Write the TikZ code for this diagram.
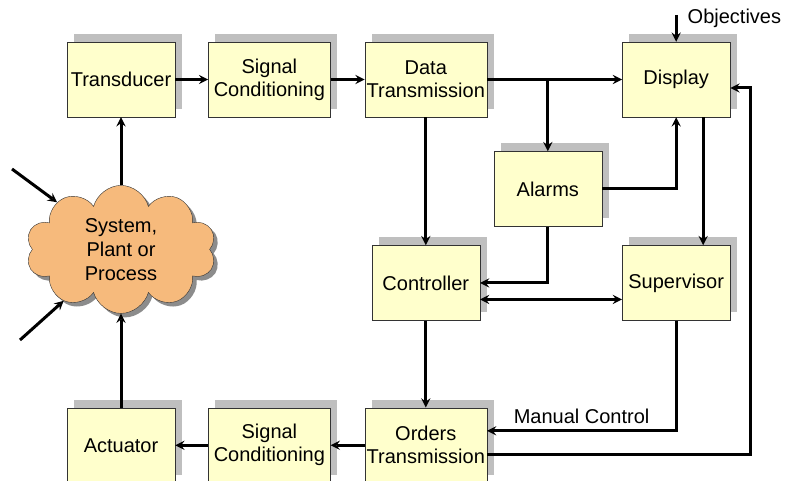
\documentclass[tikz,border=0pt]{standalone}
\usepackage{fontspec}
\setmainfont{Liberation Sans}
\usepackage{xcolor}
\usepackage{tikz}
\usetikzlibrary{shapes.symbols, shadows, arrows, positioning}
\definecolor{boxfill}{RGB}{255,255,204}
\definecolor{cloudfill}{RGB}{246,186,124}

\begin{document}
\begin{tikzpicture}[node distance=33pt, auto,
    block/.style={rectangle, draw=black!80, fill=boxfill, text centered, align=center, minimum width=108pt, minimum height=75pt, inner sep=1pt, font=\fontsize{20}{23}\selectfont, general shadow={fill=gray!50, shadow xshift=7pt, shadow yshift=8pt}},
    wideblock/.style={block, minimum width=122pt},
    plant/.style={cloud, cloud puffs=10, aspect=1.5, draw=black!80, fill=cloudfill, align=center, minimum width=190pt, minimum height=128pt, inner sep=0pt, font=\fontsize{20}{24}\selectfont, general shadow={fill=black!45, shadow xshift=4pt, shadow yshift=-4pt}},
    note/.style={font=\fontsize{20}{23}\selectfont},
    arrow/.style={line width=3pt,->,>=stealth}]

    \useasboundingbox (0,0) rectangle (785pt,-481pt);

    \node [block] (transducer) at (121pt,-79.5pt) {Transducer};
    \node [wideblock, right=of transducer] (sigcondin) {Signal\\Conditioning};
    \node [wideblock, right=34pt of sigcondin] (datatx) {Data\\Transmission};
    \node [block, right=135pt of datatx] (display) {Display};
    \node [block, below=34pt of datatx, xshift=122pt] (alarms) {Alarms};
    \node [block, below=128pt of datatx] (controller) {Controller};
    \node [block, below=128pt of display] (supervisor) {Supervisor};
    \node [wideblock, below=87pt of controller] (orders) {Orders\\Transmission};
    \node [wideblock, left=34pt of orders] (sigcondout) {Signal\\Conditioning};
    \node [block, left=of sigcondout] (actuator) {Actuator};
    \node [plant, below=68pt of transducer] (process) {System,\\Plant or\\Process};

    \coordinate [above=27pt of display.north] (objin);
    \node [note, anchor=west] (objectives) at ([xshift=8pt,yshift=-4pt]objin) {Objectives};
    \coordinate (dist1) at (12pt,-169pt);
    \coordinate (dist2) at (20pt,-340pt);

    \draw [arrow] (transducer) -- (sigcondin);
    \draw [arrow] (sigcondin) -- (datatx);
    \draw [arrow] (datatx) -- (display);
    \draw [arrow] (alarms.north |- datatx.east) -- (alarms);
    \draw [arrow] (datatx) -- (controller);
    \draw [arrow] (alarms) -| (display);
    \draw [arrow] ([xshift=27pt]display.south) -- ([xshift=27pt]supervisor.north);
    \draw [arrow] (alarms) |- (controller);
    \draw [arrow, <->] ([yshift=-16.5pt]controller.east) -- ([yshift=-16.5pt]supervisor.west);
    \draw [arrow] (controller) -- (orders);
    \draw [arrow] (supervisor) |- ([yshift=14.5pt]orders.east) node [note, pos=0.75, above=2pt] {Manual Control};
    \draw [arrow] ([yshift=-9.5pt]orders.east) -| ([xshift=20pt,yshift=-8.5pt]display.east) -- ([yshift=-8.5pt]display.east);
    \draw [arrow] (orders) -- (sigcondout);
    \draw [arrow] (sigcondout) -- (actuator);
    \draw [arrow] (actuator) -- (process);
    \draw [arrow] (process) -- (transducer);
    \draw [arrow] (objin) -- (display);
    \draw [arrow] (dist1) -- (process);
    \draw [arrow] (dist2) -- (process);
\end{tikzpicture}
\end{document}
